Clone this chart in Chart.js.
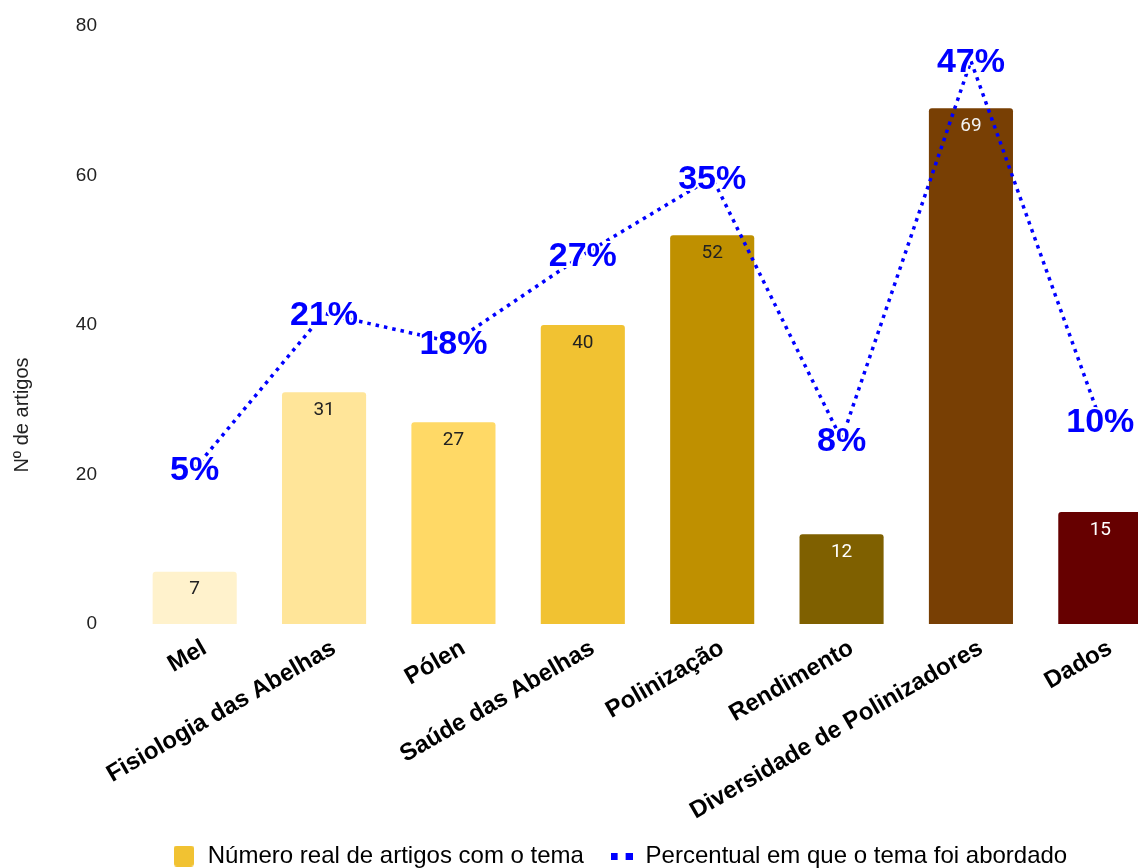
<!DOCTYPE html>
<html>
<head>
<meta charset="utf-8">
<title>Temas dos artigos</title>
<script src="https://cdn.jsdelivr.net/npm/chart.js@4.4.1/dist/chart.umd.min.js"></script>
<style>
  html, body { margin: 0; padding: 0; background: #fff; }
  #wrap { width: 1138px; height: 868px; overflow: hidden; position: relative; }
  #chart { position: absolute; left: 0; top: 0; }
</style>
</head>
<body>
<div id="wrap"><canvas id="chart"></canvas></div>
<script>
// categories and values
const temas = [
  "Mel",
  "Fisiologia das Abelhas",
  "Pólen",
  "Saúde das Abelhas",
  "Polinização",
  "Rendimento",
  "Diversidade de Polinizadores",
  "Dados"
];
const numArtigos = [7, 31, 27, 40, 52, 12, 69, 15];
const percentuais = [5, 21, 18, 27, 35, 8, 47, 10];
const yTicks = [0, 20, 40, 60, 80];

const coresBarras = ["#fff2cc", "#ffe599", "#ffd966", "#f1c232", "#bf9000", "#7f6000", "#783f04", "#660000"];
const corTextoBarra = ["#222", "#222", "#222", "#222", "#222", "#fff", "#f3f3f3", "#fff"];

const FONT = "'Liberation Sans', Arial, sans-serif";
const CANVAS_W = 1170;
const CANVAS_H = 878;

const canvas = document.getElementById("chart");
canvas.width = CANVAS_W;
canvas.height = CANVAS_H;
canvas.style.width = CANVAS_W + "px";
canvas.style.height = CANVAS_H + "px";

// legend icons
function iconeBarra() {
  const c = document.createElement("canvas");
  c.width = 20; c.height = 21;
  const g = c.getContext("2d");
  g.fillStyle = "#f1c232";
  g.beginPath();
  g.roundRect(0, 0, 20, 21, 3);
  g.fill();
  return c;
}
function iconeLinha() {
  const c = document.createElement("canvas");
  c.width = 22; c.height = 7;
  const g = c.getContext("2d");
  g.fillStyle = "#0000ff";
  g.fillRect(0, 0, 7, 7);
  g.fillRect(15, 0, 7, 7);
  return c;
}

// value labels on bars and points, plus the y axis title
const rotulos = {
  id: "rotulos",
  afterDatasetsDraw(chart) {
    const ctx = chart.ctx;
    ctx.save();

    const barras = chart.getDatasetMeta(0).data;
    ctx.font = "19px Roboto, 'Liberation Sans', sans-serif";
    ctx.textAlign = "center";
    ctx.textBaseline = "middle";
    barras.forEach((bar, i) => {
      ctx.fillStyle = corTextoBarra[i];
      ctx.fillText(String(numArtigos[i]), bar.x, bar.y + 18);
    });

    const pontos = chart.getDatasetMeta(1).data;
    ctx.font = "bold 34px " + FONT;
    ctx.lineJoin = "round";
    pontos.forEach((pt, i) => {
      const txt = percentuais[i] + "%";
      ctx.strokeStyle = "#fff";
      ctx.lineWidth = 4;
      ctx.strokeText(txt, pt.x, pt.y + 2);
      ctx.fillStyle = "#0000ff";
      ctx.fillText(txt, pt.x, pt.y + 2);
    });

    ctx.translate(22, 415);
    ctx.rotate(-Math.PI / 2);
    ctx.font = "20px " + FONT;
    ctx.fillStyle = "#222";
    ctx.fillText("Nº de artigos", 0, 0);
    ctx.restore();
  }
};

new Chart(canvas, {
  data: {
    labels: temas,
    datasets: [
      {
        type: "bar",
        label: "Número real de artigos com o tema",
        data: numArtigos,
        backgroundColor: coresBarras,
        borderRadius: 3,
        borderSkipped: "bottom",
        categoryPercentage: 0.65,
        barPercentage: 1,
        yAxisID: "y",
        order: 1
      },
      {
        type: "line",
        label: "Percentual em que o tema foi abordado",
        data: percentuais,
        borderColor: "#0000ff",
        borderWidth: 3.5,
        borderDash: [3.5, 5],
        borderCapStyle: "butt",
        pointRadius: 0,
        tension: 0,
        fill: false,
        yAxisID: "y1",
        order: 0
      }
    ]
  },
  options: {
    responsive: false,
    animation: false,
    layout: { padding: { top: 26, left: 74, right: CANVAS_W - 1165, bottom: 0 } },
    scales: {
      x: {
        grid: { display: false, drawTicks: false },
        border: { display: false },
        ticks: {
          color: "#000",
          font: { family: FONT, size: 24, weight: "bold" },
          minRotation: 30,
          maxRotation: 30,
          autoSkip: false,
          padding: 10,
          labelOffset: 10
        },
        afterFit(scale) {
          scale.height = scale.chart.height - 624 - scale.chart.legend.height;
        }
      },
      y: {
        min: 0,
        max: 80,
        grid: { display: false, drawTicks: false },
        border: { display: false },
        afterBuildTicks(scale) {
          scale.ticks = yTicks.map(v => ({ value: v }));
        },
        ticks: {
          color: "#222",
          font: { family: FONT, size: 19 },
          padding: 33
        },
        afterFit(scale) {
          // fixed axis width; the tick padding should not push the plot down
          scale.width = 56;
          scale.paddingTop = 0;
          scale.paddingBottom = 0;
        }
      },
      y1: {
        display: false,
        min: -11,
        max: 50.6
      }
    },
    plugins: {
      tooltip: { enabled: false },
      legend: {
        position: "bottom",
        labels: {
          usePointStyle: true,
          pointStyleWidth: 24,
          padding: 19,
          color: "#222",
          font: { family: FONT, size: 24 },
          generateLabels() {
            return [
              { text: "Número real de artigos com o tema ", pointStyle: iconeBarra(), fillStyle: "#f1c232", strokeStyle: "#f1c232", lineWidth: 0, hidden: false, datasetIndex: 0 },
              { text: "Percentual em que o tema foi abordado", pointStyle: iconeLinha(), fillStyle: "#0000ff", strokeStyle: "#0000ff", lineWidth: 0, hidden: false, datasetIndex: 1 }
            ];
          }
        }
      }
    }
  },
  plugins: [rotulos]
});
</script>
</body>
</html>
